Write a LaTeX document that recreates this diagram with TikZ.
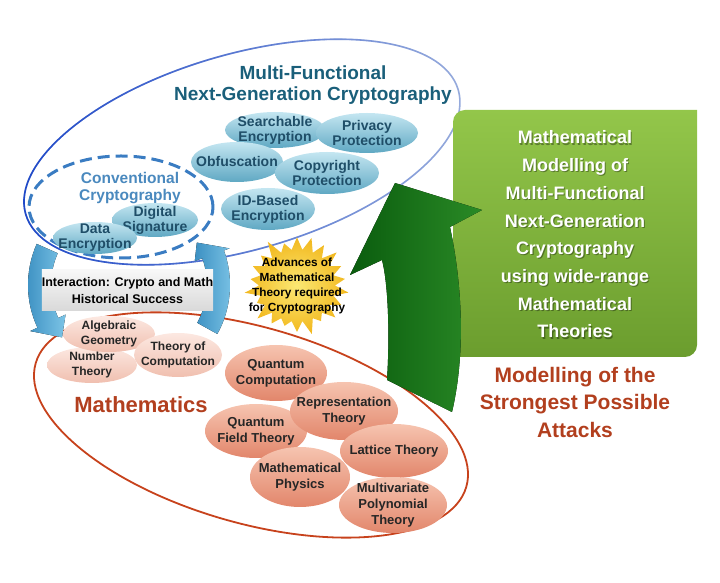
\documentclass[tikz,border=0pt]{standalone}
\usepackage{fontspec}
\setsansfont{Liberation Sans}
\usetikzlibrary{positioning}
\usetikzlibrary{shapes.geometric,shapes.symbols}
\usetikzlibrary{calc}
\usetikzlibrary{fadings}

\definecolor{titleblue}{HTML}{1A5F7A}
\definecolor{convblue}{HTML}{4A89BE}
\definecolor{itemtext}{HTML}{1F4E68}
\definecolor{itemtop}{HTML}{C4E6F1}
\definecolor{itembot}{HTML}{5FA8C3}
\definecolor{ringdark}{HTML}{1C46C8}
\definecolor{ringlight}{HTML}{9AAEDD}
\definecolor{dashblue}{HTML}{3A7CC2}
\definecolor{mathred}{HTML}{C7421C}
\definecolor{mathtext}{HTML}{B23F1E}
\definecolor{pinktop}{HTML}{FCE8E1}
\definecolor{pinkbot}{HTML}{F0BFAF}
\definecolor{salmontop}{HTML}{F6C4B0}
\definecolor{salmonbot}{HTML}{E2866B}
\definecolor{cyclelight}{HTML}{7CC4E6}
\definecolor{cycledark}{HTML}{3C90C2}
\definecolor{boxtop}{HTML}{93C64A}
\definecolor{boxbot}{HTML}{6B9D2E}
\definecolor{arrowlight}{HTML}{2A8A26}
\definecolor{arrowdark}{HTML}{0A5C0E}
\definecolor{stargold}{HTML}{F2B81E}
\definecolor{staryellow}{HTML}{FBE873}

\begin{document}
\begin{tikzpicture}[x=1pt,y=1pt,font=\sffamily\bfseries,
    cryptoitem/.style={ellipse,inner sep=-12pt,top color=itemtop,bottom color=itembot,
      text=itemtext,align=center,font=\sffamily\bfseries\fontsize{14}{15}\selectfont},
    mathitem/.style={ellipse,inner sep=-12pt,top color=pinktop,bottom color=pinkbot,
      text=black!85,align=center,font=\sffamily\bfseries\fontsize{12}{14.5}\selectfont},
    physitem/.style={ellipse,inner sep=-12pt,top color=salmontop,bottom color=salmonbot,
      text=black!85,align=center,font=\sffamily\bfseries\fontsize{13}{16}\selectfont},
    boxtext/.style={align=center,font=\sffamily\bfseries\fontsize{18}{27.7}\selectfont},
    cyclearrow/.style={left color=cycledark,right color=cyclelight}]
    \useasboundingbox (0,0) rectangle (720,583);

    % the two big rings
    \draw [ringlight,line width=1.6pt,rotate around={16:(242,431)}] (242,431) ellipse [x radius=225,y radius=98];
    \draw [ringdark,line width=1.6pt,path fading=east,rotate around={16:(242,431)}] (242,431) ellipse [x radius=225,y radius=98];
    \draw [mathred,line width=1.8pt,rotate around={-16:(251,158)}] (251,158) ellipse [x radius=224,y radius=98];
    \draw [dashblue,line width=3pt,dash pattern=on 12pt off 6pt] (121,376) ellipse [x radius=92,y radius=51];

    \node [text=titleblue,align=center,font=\sffamily\bfseries\fontsize{19}{20.5}\selectfont] (MF) at (313,498)
        {Multi-Functional\\Next-Generation Cryptography};
    \node [text=convblue,align=center,font=\sffamily\bfseries\fontsize{15.5}{17}\selectfont] (CC) at (130,394.5)
        {Conventional\\Cryptography};

    \node [cryptoitem,minimum width=86pt,minimum height=34pt] (DS) at (155,363) {Digital\\Signature};
    \node [cryptoitem,minimum width=84pt,minimum height=32pt] (DE) at (95,345) {Data\\Encryption};
    \node [cryptoitem,minimum width=100pt,minimum height=36pt] (SE) at (275,453) {Searchable\\Encryption};
    \node [cryptoitem,minimum width=102pt,minimum height=40pt] (PP) at (367,450) {Privacy\\Protection};
    \node [cryptoitem,minimum width=92pt,minimum height=40pt] (OB) at (237,421) {Obfuscation};
    \node [cryptoitem,minimum width=104pt,minimum height=42pt] (CP) at (327,410) {Copyright\\Protection};
    \node [cryptoitem,minimum width=94pt,minimum height=42pt] (ID) at (268,374) {ID-Based\\Encryption};

    % interaction between the rings
    \coordinate (CY) at (129,298);
    \fill [cyclearrow] ($(CY)+(156:101)$) arc [start angle=156,end angle=205,radius=101]
        -- ($(CY)+(205:109)$) -- ($(CY)+(218:85)$) -- ($(CY)+(205:70)$) -- ($(CY)+(205:78)$)
        arc [start angle=205,end angle=156,radius=78] -- cycle;
    \fill [cyclearrow] ($(CY)+(-29:101)$) arc [start angle=-29,end angle=20,radius=101]
        -- ($(CY)+(20:107)$) -- ($(CY)+(32:80)$) -- ($(CY)+(20:70)$) -- ($(CY)+(20:78)$)
        arc [start angle=20,end angle=-29,radius=78] -- cycle;
    \node [rectangle,minimum width=161pt,minimum height=41pt,inner sep=0pt,top color=gray!6,bottom color=gray!30,
        align=center,font=\sffamily\bfseries\fontsize{12.5}{16.5}\selectfont] (IA) at (127.5,292.5)
        {Interaction: Crypto and Math\\Historical Success};

    \node [mathitem,minimum width=90pt,minimum height=36pt] (NT) at (92,218) {Number\\Theory};
    \node [mathitem,minimum width=92pt,minimum height=36pt] (AG) at (109,249) {Algebraic\\Geometry};
    \node [mathitem,minimum width=88pt,minimum height=44pt] (TC) at (178,228) {Theory of\\Computation};

    \node [physitem,minimum width=102pt,minimum height=56pt] (QC) at (276,210) {Quantum\\Computation};
    \node [physitem,minimum width=102pt,minimum height=54pt] (QF) at (256,152) {Quantum\\Field Theory};
    \node [physitem,minimum width=108pt,minimum height=58pt] (RT) at (344,172) {Representation\\Theory};
    \node [physitem,minimum width=100pt,minimum height=60pt] (MP) at (300,106) {Mathematical\\Physics};
    \node [physitem,minimum width=108pt,minimum height=54pt] (LT) at (394,132) {Lattice Theory};
    \node [physitem,minimum width=108pt,minimum height=56pt] (MV) at (393,78) {Multivariate\\Polynomial\\Theory};

    \node [text=mathtext,font=\sffamily\bfseries\fontsize{22}{24}\selectfont] (MA) at (141,178) {Mathematics};

    \node [starburst,starburst points=22,starburst point height=17pt,inner xsep=-40pt,inner ysep=-25pt,
        minimum width=110pt,minimum height=106pt,inner color=staryellow,outer color=stargold,
        align=center,font=\sffamily\bfseries\fontsize{11.8}{15}\selectfont] (AD) at (297,297.5)
        {Advances of\\Mathematical\\Theory required\\for Cryptography};

    % modelling box and the big arrow
    \path [top color=boxtop,bottom color=boxbot] (453,226) -- (453,461) arc [start angle=180,end angle=90,radius=12]
        -- (697,473) -- (697,238) arc [start angle=0,end angle=-90,radius=12] -- cycle;
    \coordinate (BB) at (575,226);
    \node [boxtext,text=black,opacity=.35] (GS) at (576.2,347.3)
        {Mathematical\\Modelling of\\Multi-Functional\\Next-Generation\\Cryptography\\using wide-range\\Mathematical\\Theories};
    \node [boxtext,text=white] (GB) at (575,348.5)
        {Mathematical\\Modelling of\\Multi-Functional\\Next-Generation\\Cryptography\\using wide-range\\Mathematical\\Theories};
    \fill [left color=arrowdark,right color=arrowlight] (395,400) -- (482,373) -- (450,356)
        .. controls (462,300) and (466,230) .. (452,171) -- (387,203)
        .. controls (390,250) and (388,300) .. (382,323) -- (350,308) -- cycle;
    \node (MS) [below=10pt of BB,inner sep=0pt,text=mathtext,align=center,
        font=\sffamily\bfseries\fontsize{21}{27.5}\selectfont]
        {Modelling of the\\Strongest Possible\\Attacks};
\end{tikzpicture}
\end{document}
